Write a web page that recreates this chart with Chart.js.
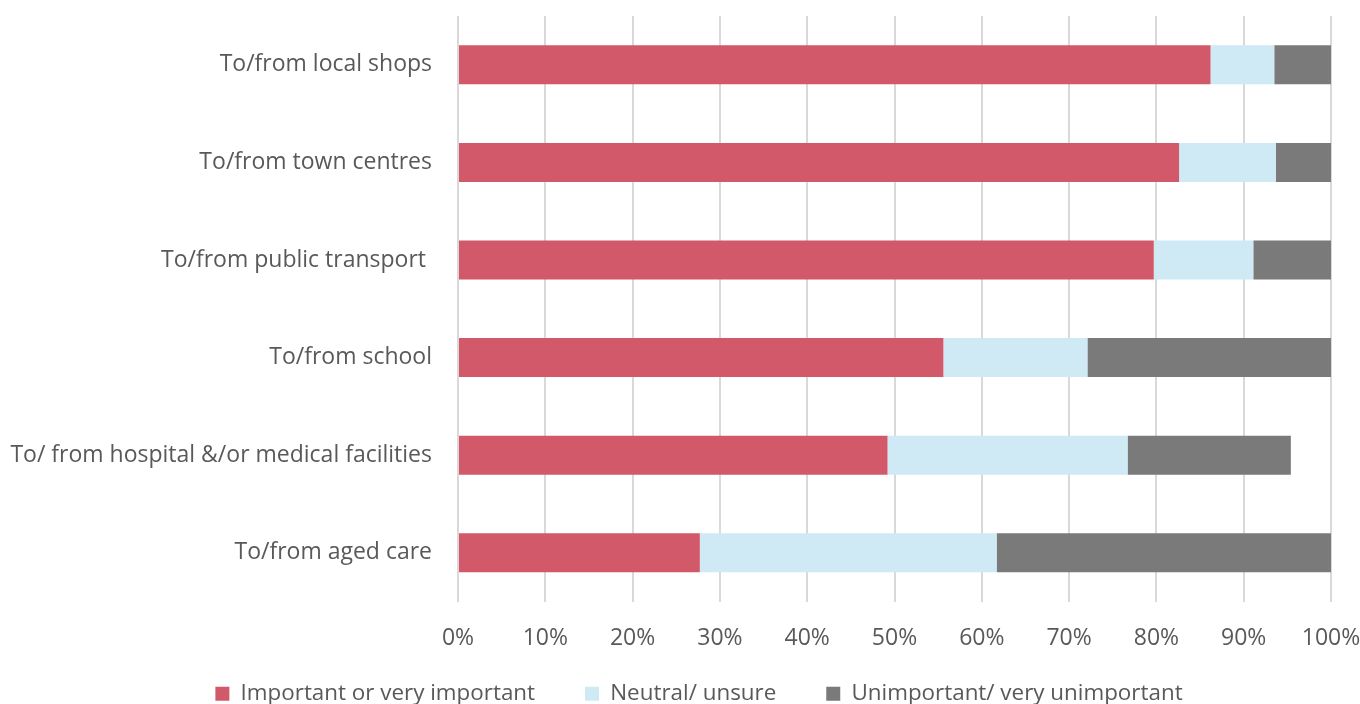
<!DOCTYPE html>
<html>
<head>
<meta charset="utf-8">
<script src="https://cdn.jsdelivr.net/npm/chart.js@4.4.1/dist/chart.umd.min.js"></script>
<style>
  html, body { margin: 0; padding: 0; background: #ffffff; }
  #wrap { width: 1360px; height: 704px; position: relative; }
</style>
</head>
<body>
<div id="wrap"><canvas id="chart" width="1360" height="704"></canvas></div>
<script>
// Trip destinations, top to bottom
const categories = [
  'To/from local shops',
  'To/from town centres',
  'To/from public transport ',
  'To/from school',
  'To/ from hospital &/or medical facilities',
  'To/from aged care'
];

// Share of respondents (%) per rating
const important   = [86.2, 82.6, 79.7, 55.6, 49.2, 27.7];
const neutral     = [7.3, 11.1, 11.4, 16.5, 27.5, 34.0];
const unimportant = [6.5, 6.3, 8.9, 27.9, 18.7, 38.3];

const seriesNames = ['Important or very important', 'Neutral/ unsure', 'Unimportant/ very unimportant'];
const tickValues = [0, 10, 20, 30, 40, 50, 60, 70, 80, 90, 100];

const textColor = '#595959';
const fontFamily = '"Open Sans", "Noto Sans", sans-serif';

const barStyle = { categoryPercentage: 0.8, barPercentage: 0.5, borderWidth: 0 };

// Pulls the legend row closer to the axis labels and nudges it right
const legendPlacement = {
  id: 'legendPlacement',
  afterLayout(chart) {
    const lg = chart.legend;
    if (!lg) return;
    lg.top -= 19; lg.bottom -= 19;
    lg.left += 19; lg.right += 19;
  }
};

new Chart(document.getElementById('chart'), {
  type: 'bar',
  data: {
    labels: categories,
    datasets: [
      Object.assign({ label: seriesNames[0], data: important,   backgroundColor: '#D2596A' }, barStyle),
      Object.assign({ label: seriesNames[1], data: neutral,     backgroundColor: '#CFEAF5' }, barStyle),
      Object.assign({ label: seriesNames[2], data: unimportant, backgroundColor: '#7A7A7A' }, barStyle)
    ]
  },
  plugins: [legendPlacement],
  options: {
    indexAxis: 'y',
    responsive: false,
    animation: false,
    layout: { padding: { top: 16, left: 0, right: 0, bottom: -30 } },
    scales: {
      x: {
        stacked: true,
        min: 0,
        max: 100,
        afterBuildTicks: (scale) => { scale.ticks = tickValues.map(v => ({ value: v })); },
        afterFit: (scale) => {
          scale.height = 50;
          scale.paddingLeft = 0;
          scale.paddingRight = 29;
        },
        ticks: {
          color: textColor,
          font: { family: fontFamily, size: 23 },
          padding: 23,
          maxRotation: 0,
          callback: (v) => v + '%'
        },
        grid: { color: '#D9D9D9', lineWidth: 2, drawTicks: false },
        border: { display: false }
      },
      y: {
        stacked: true,
        afterFit: (scale) => {
          scale.width = 458;
          scale.paddingTop = 0;
          scale.paddingBottom = 0;
        },
        ticks: {
          color: textColor,
          font: { family: fontFamily, size: 23 },
          padding: 26
        },
        grid: { display: false, drawTicks: false },
        border: { display: false }
      }
    },
    plugins: {
      legend: {
        position: 'bottom',
        labels: {
          color: textColor,
          font: { family: fontFamily, size: 22.4 },
          boxWidth: 14,
          boxHeight: 14,
          padding: 50
        }
      },
      tooltip: { enabled: false }
    }
  }
});
</script>
</body>
</html>
